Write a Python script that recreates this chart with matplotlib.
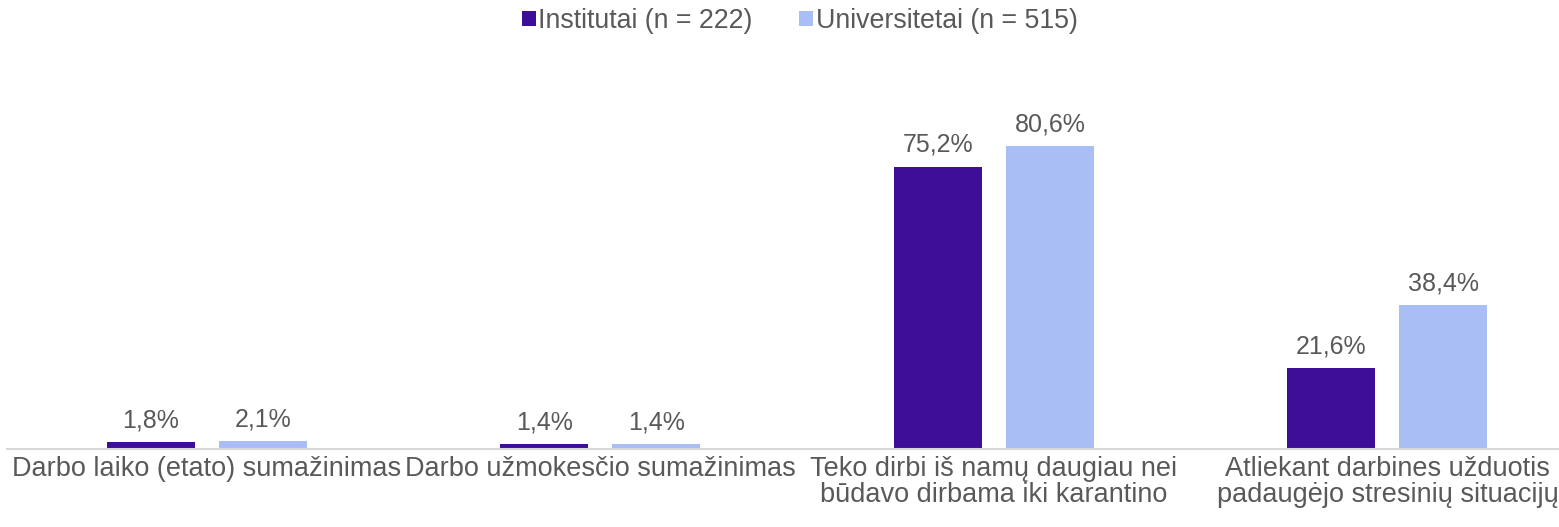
import matplotlib.pyplot as plt
import numpy as np

plt.rcParams['font.family'] = ['Liberation Sans', 'DejaVu Sans']

categories = ["Darbo laiko (etato) sumažinimas",
              "Darbo užmokesčio sumažinimas",
              "Teko dirbi iš namų daugiau nei\nbūdavo dirbama iki karantino",
              "Atliekant darbines užduotis\npadaugėjo stresinių situacijų"]
institutai = [1.8, 1.4, 75.2, 21.6]
universitetai = [2.1, 1.4, 80.6, 38.4]
series_names = ["Institutai (n = 222)", "Universitetai (n = 515)"]

dark = "#3D0F99"
light = "#A9BEF5"
grey = "#595959"

fig = plt.figure(figsize=(15.59, 5.27), dpi=100)
ax = fig.add_axes([7 / 1559, 78 / 527, 1552 / 1559, 338 / 527])

x = np.arange(len(categories))
w = 0.2236
off = 0.1423
b1 = ax.bar(x - off, institutai, w, color=dark, label=series_names[0])
b2 = ax.bar(x + off, universitetai, w, color=light, label=series_names[1])

# value labels above each bar
for bars in (b1, b2):
    for b in bars:
        ax.annotate(f"{b.get_height():.1f}%".replace(".", ","),
                    (b.get_x() + b.get_width() / 2, b.get_height()),
                    xytext=(0, 7), textcoords="offset points",
                    ha="center", va="bottom", fontsize=18, color=grey)

ax.set_xlim(-0.508, 3.436)
ax.set_ylim(0, 90)
ax.set_xticks(x)
ax.set_xticklabels(categories, fontsize=19.5, color=grey, linespacing=1.02)
ax.tick_params(axis="x", length=0, pad=5)
ax.set_yticks([])
for s in ["top", "right", "left"]:
    ax.spines[s].set_visible(False)
ax.spines["bottom"].set_color("#D9D9D9")
ax.spines["bottom"].set_linewidth(1.5)

fig.legend(loc="upper center", bbox_to_anchor=(0.513, 1.03), ncol=2, frameon=False,
           fontsize=19.3, labelcolor=grey, handlelength=0.5, handleheight=0.5,
           handletextpad=0.1, columnspacing=1.75)

fig.savefig("out.png", dpi=100)
